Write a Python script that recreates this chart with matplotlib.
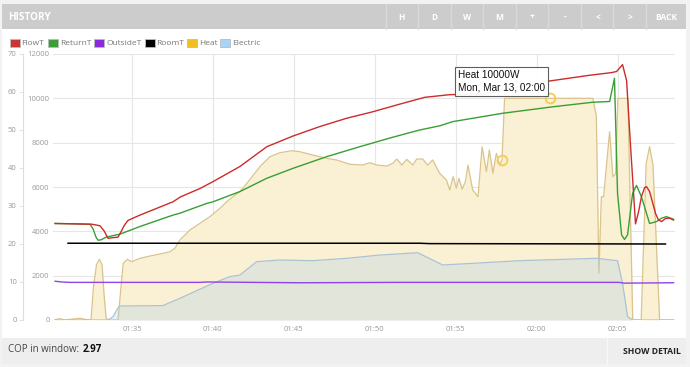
import datetime as dt

import matplotlib
matplotlib.use('Agg')
import matplotlib.dates as mdates
import matplotlib.pyplot as plt
from matplotlib.patches import Rectangle

W, H = 690, 367
start = dt.datetime(2023, 3, 13, 1, 30)

# times are minutes after 01:30, temperatures in degC, power in W
flow_t = [0.25, 1.48, 2.53, 3.02, 3.27, 3.52, 3.89, 4.14, 4.32, 4.51, 4.75, 5.49, 6.48, 7.53, 8.0,
          9.2, 10.0, 11.67, 13.33, 14.94, 16.6, 18.27, 19.88, 21.54, 23.09, 24.63, 25.86, 26.91,
          28.95, 30.8, 33.27, 34.63, 34.94, 35.31, 35.56, 35.8, 36.11, 36.3, 36.48, 36.67, 36.79,
          36.98, 37.16, 37.35, 37.53, 37.72, 37.96, 38.21, 38.46]
flow_v = [25.4, 25.3, 25.2, 24.8, 23.5, 21.5, 21.7, 21.8, 23.2, 24.8, 26.2, 27.6, 29.3, 31.1, 32.4,
          34.6, 36.4, 40.4, 45.6, 48.4, 50.9, 53.1, 54.8, 56.8, 58.6, 59.3, 59.4, 59.6,
          61.4, 62.9, 64.4, 65.1, 65.4, 67.2, 63.0, 46.0, 25.3, 28.5, 32.5, 34.8, 35.1,
          33.8, 31.0, 28.0, 26.3, 25.9, 26.7, 26.8, 26.3]

ret_t = [0.25, 1.48, 2.41, 2.59, 2.78, 2.9, 3.09, 3.4, 3.83, 4.26, 5.49, 7.53, 7.96, 9.63, 10.0,
         11.67, 13.33, 14.94, 17.04, 19.07, 21.11, 22.78, 24.01, 24.81, 27.9, 30.99, 33.46, 34.51,
         34.81, 35.0, 35.25, 35.43, 35.62, 35.93, 36.17, 36.48, 36.98, 37.41, 37.72, 38.02, 38.46]
ret_v = [25.4, 25.3, 25.2, 24.0, 21.8, 21.0, 21.1, 21.8, 22.2, 22.6, 24.6, 27.6, 28.1, 30.7, 31.1,
         33.8, 37.3, 39.9, 43.0, 45.6, 48.1, 50.0, 51.1, 52.2, 54.4, 56.1, 57.3, 57.5,
         63.6, 33.3, 22.4, 21.2, 22.4, 33.3, 35.4, 32.4, 25.4, 25.9, 26.8, 27.2, 26.5]

out_t = [0.25, 0.68, 1.17, 3.5, 6.1, 9.2, 9.6, 15.4, 21.5, 27.7, 32.7, 35.1, 35.4, 38.46]
out_v = [10.2, 10.0, 9.9, 9.9, 9.9, 9.9, 10.0, 9.8, 9.9, 9.9, 9.9, 9.9, 9.7, 9.8]

room_t = [1.05, 9.2, 22.8, 23.4, 37.96]
room_v = [20.2, 20.2, 20.2, 20.1, 20.0]

heat_t = [0.25, 0.56, 0.86, 1.3, 1.79, 2.1, 2.47, 2.62, 2.81, 2.98, 3.15, 3.27, 3.4, 3.52, 4.14,
          4.32, 4.46, 4.71, 4.98, 5.49, 6.11, 6.73, 7.35, 7.65, 7.96, 8.58, 9.2, 9.81, 10.43,
          10.86, 11.23, 11.67, 12.1, 12.9, 13.52, 14.14, 14.88, 15.37, 16.17, 17.04, 17.65,
          18.46, 19.26, 19.69, 20.12, 20.74, 21.11, 21.36, 21.67, 21.98, 22.35, 22.59, 22.96,
          23.27, 23.58, 24.01, 24.43, 24.63, 24.84, 25.04, 25.2, 25.4, 25.6, 25.76, 26.05, 26.38,
          26.63, 26.9, 27.08, 27.3, 27.51, 27.72, 27.86, 28.02, 30.8, 33.48, 33.69, 33.85, 34.0,
          34.14, 34.51, 34.71, 34.88, 35.02, 35.64, 35.94, 36.46, 36.77, 36.98, 37.19, 37.6, 38.46]
heat_v = [20, 60, 0, 40, 80, 30, 0, 1500, 2500, 2740, 2500, 1200, 100, 0, 0,
          1500, 2557, 2738, 2630, 2782, 2887, 2977, 3081, 3234, 3609, 4060, 4361, 4661, 5037,
          5338, 5563, 5788, 6166, 6916, 7367, 7547, 7637, 7592, 7443, 7292, 7218,
          7024, 6992, 7096, 6992, 6947, 7066, 7262, 6992, 7247, 6992, 7262, 7262,
          6992, 7218, 6617, 6315, 5864, 6466, 5950, 6390, 5900, 6240, 6992, 5864, 5563,
          7818, 6700, 7668, 6617, 7518, 7000, 7218, 10000, 10000, 10000, 9172, 2106, 5563,
          5563, 8495, 6466, 6600, 10000, 10000, 0, 0, 7066, 7818, 6992, 0, 0]

elec_t = [0.25, 3.52, 3.83, 4.14, 4.26, 6.91, 7.96, 10.0, 11.05, 11.67, 12.7, 14.14, 16.17,
          18.27, 20.31, 22.65, 24.2, 28.95, 33.7, 35.0, 35.31, 35.62, 35.93, 38.46]
elec_v = [0, 0, 150, 550, 631, 650, 978, 1654, 1955, 2030, 2630, 2707, 2676,
          2782, 2932, 3036, 2481, 2676, 2782, 2676, 1654, 150, 0, 0]

hover_idx = [72, 74]   # heat points under the cursor
tooltip_lines = ['Heat 10000W', 'Mon, Mar 13, 02:00']

legend_names = ['FlowT', 'ReturnT', 'OutsideT', 'RoomT', 'Heat', 'Electric']
legend_colors = ['#cc3333', '#3a9e34', '#8a2be2', '#000000', '#f0c020', '#aad4f5']
legend_x = [9.5, 48, 94.5, 144.5, 187, 220]

buttons = ['H', 'D', 'W', 'M', '+', '-', '<', '>', 'BACK']
button_x = [401.7, 434.3, 466.7, 499.3, 532.3, 565, 597.7, 630, 666.7]
cop = '2.97'


def to_time(mins):
    return [start + dt.timedelta(minutes=m) for m in mins]


def fx(x):
    return x / W


def fy(y):
    return 1 - y / H


def box(x0, y0, x1, y1, color, z=0, **kw):
    fig.add_artist(Rectangle((fx(x0), fy(y1)), (x1 - x0) / W, (y1 - y0) / H,
                             transform=fig.transFigure, facecolor=color, zorder=z, **kw))


fig = plt.figure(figsize=(W / 100, H / 100), dpi=100, facecolor='#f2f2f2')

# page frame
box(2, 29, 686, 338, 'white', lw=0)
box(2, 4, 686, 29, '#cccccc', lw=0)
box(2, 338, 686, 364, '#eeeeee', lw=0)
fig.add_artist(plt.Line2D([fx(607), fx(607)], [fy(338), fy(364)], transform=fig.transFigure,
                          color='#f8f8f8', lw=1))
for bx in [386, 418.3, 451, 483.3, 516, 548.3, 581, 613.3, 646]:
    fig.add_artist(plt.Line2D([fx(bx), fx(bx)], [fy(4), fy(29)], transform=fig.transFigure,
                              color='#dadada', lw=1))

fig.text(fx(8), fy(17), 'HISTORY', color='white', fontsize=7.2, fontweight='bold',
         family='Open Sans', va='center')
for lab, bx in zip(buttons, button_x):
    fig.text(fx(bx), fy(17), lab, color='white', fontsize=6, fontweight='bold',
             family='Open Sans', ha='center', va='center')

fig.text(fx(8), fy(350), 'COP in window: ', color='#444444', fontsize=7, family='Open Sans',
         va='center')
fig.text(fx(83), fy(350), cop, color='#111111', fontsize=7, fontweight='bold',
         family='Open Sans', va='center')
fig.text(fx(681), fy(351), 'SHOW DETAIL', color='#222222', fontsize=6.2, fontweight='bold',
         family='Open Sans', ha='right', va='center')

# legend
for name, col, lx in zip(legend_names, legend_colors, legend_x):
    box(lx, 39, lx + 10, 47, col, z=2, edgecolor='#bbbbbb', lw=0.6)
    fig.text(fx(lx + 12), fy(43.3), name, color='#777777', fontsize=6, family='Open Sans',
             va='center')

# chart
ax = fig.add_axes([fx(53), fy(320), (675 - 53) / W, (320 - 54) / H])
ax.set_facecolor('none')
ht = to_time(heat_t)
et = to_time(elec_t)
ax.fill_between(ht, heat_v, color='#faf0d4', lw=0, zorder=1)
ax.plot(ht, heat_v, color='#d8c48c', lw=0.9, zorder=2)
ax.fill_between(et, elec_v, color='#a9cdea', alpha=0.3, lw=0, zorder=3)
ax.plot(et, elec_v, color='#aac3d4', lw=0.9, zorder=4)
ax.plot([ht[i] for i in hover_idx], [heat_v[i] for i in hover_idx], 'o', ms=7,
        mfc='none', mec='#f3cf5a', mew=1.4, zorder=5)

ax.set_ylim(0, 12000)
ax.set_yticks(range(0, 12001, 2000))
ax.set_xlim(to_time([0.12, 38.55]))
ax.xaxis.set_major_locator(mdates.MinuteLocator(byminute=range(0, 60, 5)))
ax.xaxis.set_major_formatter(mdates.DateFormatter('%H:%M'))
ax.grid(True, color='#e6e6e6', lw=0.8)
ax.set_axisbelow(True)
for s in ax.spines.values():
    s.set_visible(False)
ax.tick_params(axis='both', length=0, labelsize=5.5, labelcolor='#999999')
ax.tick_params(axis='y', pad=2.5)
ax.tick_params(axis='x', pad=4)
for lbl in ax.get_xticklabels() + ax.get_yticklabels():
    lbl.set_family('Open Sans')

tx = ax.twinx()
tx.plot(to_time(out_t), out_v, color='#8e44e8', lw=1.0)
tx.plot(to_time(room_t), room_v, color='#000000', lw=1.1)
tx.plot(to_time(ret_t), ret_v, color='#3a9e34', lw=1.0)
tx.plot(to_time(flow_t), flow_v, color='#cc2b2b', lw=1.0)
tx.set_ylim(0, 70)
tx.set_yticks(range(0, 71, 10))
tx.yaxis.set_ticks_position('left')
tx.spines['left'].set_position(('outward', 21.6))
for k in ['right', 'top', 'bottom']:
    tx.spines[k].set_visible(False)
tx.spines['left'].set_color('#dddddd')
tx.spines['left'].set_linewidth(0.8)
tx.tick_params(axis='y', length=3, width=0.6, color='#dddddd', labelsize=5.5,
               labelcolor='#999999', pad=1.5)
for lbl in tx.get_yticklabels():
    lbl.set_family('Open Sans')

# tooltip
box(455, 67, 548, 96, 'white', z=10, edgecolor='#555555', lw=0.8, alpha=0.95)
fig.text(fx(458), fy(74.5), tooltip_lines[0], fontsize=7.2, family='Liberation Sans',
         color='#111111', va='center', zorder=11)
fig.text(fx(458), fy(88), tooltip_lines[1], fontsize=7.2, family='Liberation Sans',
         color='#111111', va='center', zorder=11)

fig.savefig('out.png', dpi=100, facecolor=fig.get_facecolor())
